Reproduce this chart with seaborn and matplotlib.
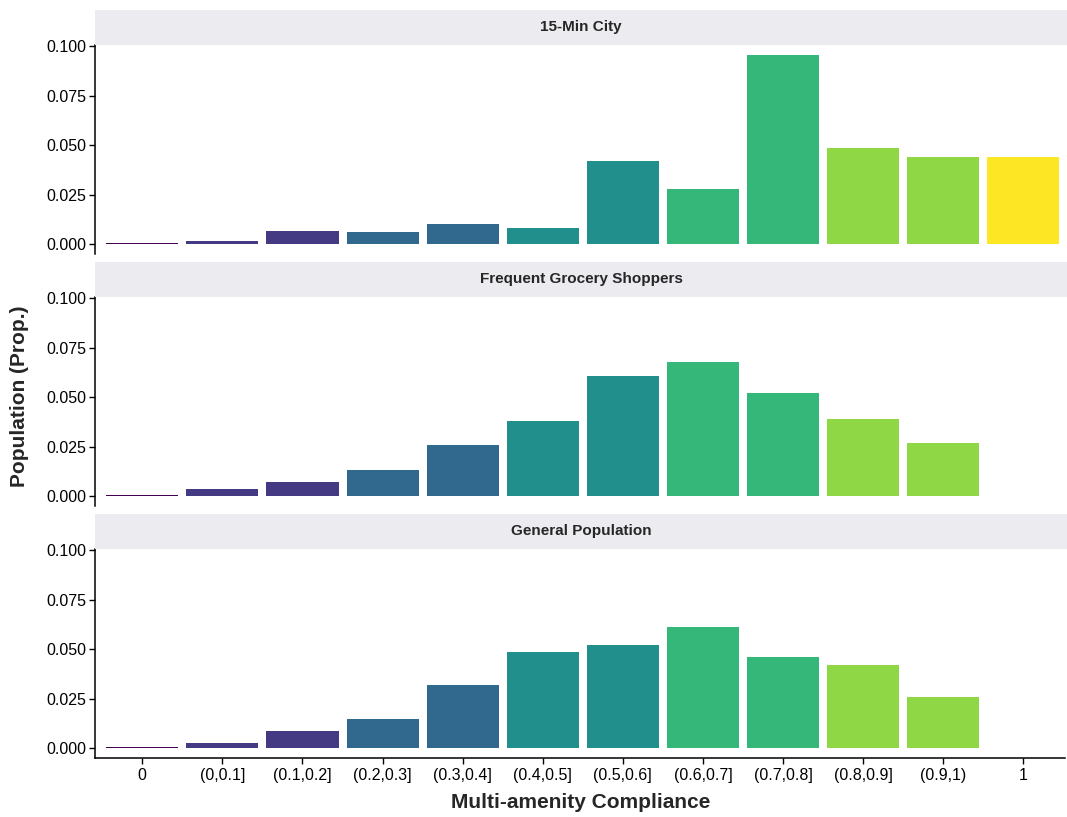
import pandas as pd
import matplotlib
matplotlib.use("Agg")
import matplotlib.pyplot as plt
import seaborn as sns

# categories and values
bins = ["0", "(0,0.1]", "(0.1,0.2]", "(0.2,0.3]", "(0.3,0.4]", "(0.4,0.5]",
        "(0.5,0.6]", "(0.6,0.7]", "(0.7,0.8]", "(0.8,0.9]", "(0.9,1)", "1"]
groups = ["15-Min City", "Frequent Grocery Shoppers", "General Population"]

city_15min = [0.0008, 0.0014, 0.0064, 0.0059, 0.0099, 0.0079,
              0.042, 0.028, 0.0955, 0.0487, 0.0442, 0.0442]
grocery = [0.0005, 0.0035, 0.007, 0.013, 0.026, 0.038,
           0.0608, 0.0678, 0.052, 0.0387, 0.0266, 0.0]
general = [0.0005, 0.0024, 0.0085, 0.0145, 0.032, 0.0487,
           0.052, 0.061, 0.046, 0.0417, 0.026, 0.0]

# colour level for each bin (7-level viridis)
color_level = [0, 1, 1, 2, 2, 3, 3, 4, 4, 5, 5, 6]
viridis7 = ["#440154", "#443A83", "#31688E", "#21908C", "#35B779", "#8FD744", "#FDE725"]
palette = {b: viridis7[c] for b, c in zip(bins, color_level)}

df = pd.DataFrame({
    "group": [g for g in groups for _ in bins],
    "bin": bins * 3,
    "prop": city_15min + grocery + general,
})

sns.set_style("white")
plt.rcParams["font.family"] = ["Liberation Sans", "DejaVu Sans"]

fig = plt.figure(figsize=(10.67, 8.17), dpi=100)
W, H = 1067, 817
left, right = 95, 1067
panel_tops = [45, 297, 549]
panel_h = 209
strip_h = 35

for i, (g, top) in enumerate(zip(groups, panel_tops)):
    ax = fig.add_axes([left / W, (H - top - panel_h) / H, (right - 2 - left) / W, panel_h / H])
    sub = df[df["group"] == g]
    sns.barplot(data=sub, x="bin", y="prop", hue="bin", palette=palette, order=bins,
                hue_order=bins, width=0.9, legend=False, saturation=1,
                linewidth=0, ax=ax)
    ax.set_ylim(-0.005, 0.1005)
    ax.set_xlim(-0.59, 11.52)
    ax.set_yticks([0, 0.025, 0.05, 0.075, 0.1])
    ax.set_yticklabels(["0.000", "0.025", "0.050", "0.075", "0.100"])
    ax.set_xlabel("")
    ax.set_ylabel("")
    for s in ["top", "right"]:
        ax.spines[s].set_visible(False)
    ax.spines["left"].set_color("black")
    ax.spines["left"].set_linewidth(1.1)
    ax.tick_params(axis="y", length=4, width=1, color="black", labelsize=11.5,
                   labelcolor="black", left=True, pad=2)
    if i < 2:
        ax.spines["bottom"].set_visible(False)
        ax.tick_params(axis="x", bottom=False, labelbottom=False)
    else:
        ax.spines["bottom"].set_color("black")
        ax.spines["bottom"].set_linewidth(1.1)
        ax.tick_params(axis="x", length=4, width=1, color="black", labelsize=11.5,
                       labelcolor="black", bottom=True, pad=3)

    # facet strip
    sax = fig.add_axes([left / W, (H - top) / H, (right - left) / W, strip_h / H])
    sax.set_facecolor("#EBEBF0")
    sax.set_xticks([])
    sax.set_yticks([])
    for s in sax.spines.values():
        s.set_visible(False)
    sax.text(0.5, 0.5, g, ha="center", va="center", fontsize=11, fontweight="bold",
             transform=sax.transAxes)

fig.text(581 / W, 1 - 802 / H, "Multi-amenity Compliance", ha="center", va="center",
         fontsize=15, fontweight="bold")
fig.text(20 / W, 1 - 396 / H, "Population (Prop.)", ha="center", va="center",
         rotation=90, fontsize=15, fontweight="bold")

fig.savefig("out.png", dpi=100)
